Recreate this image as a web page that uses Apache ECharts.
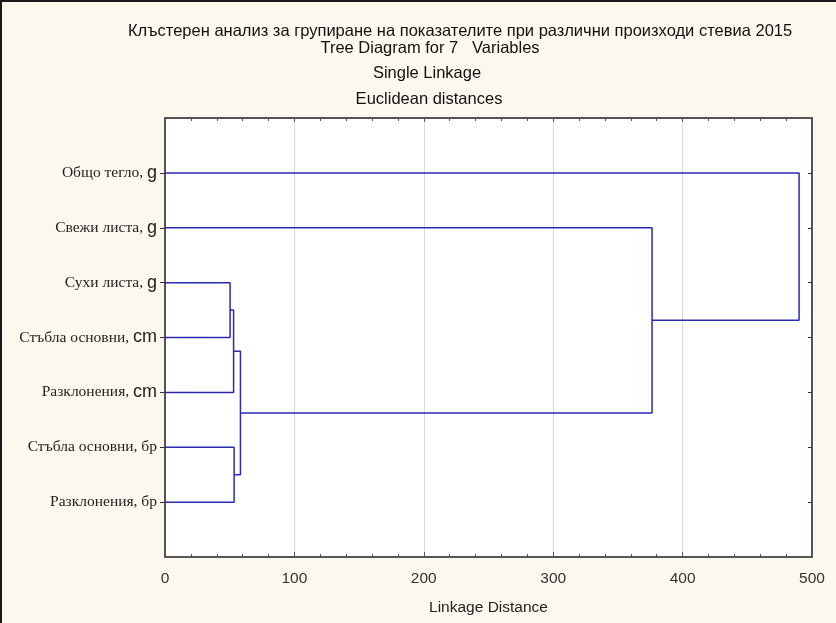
<!DOCTYPE html>
<html>
<head>
<meta charset="utf-8">
<script src="https://cdn.jsdelivr.net/npm/echarts@6/dist/echarts.min.js"></script>
<style>
html,body{margin:0;padding:0;background:#fcf8ee;}
#chart{width:836px;height:623px;position:relative;}
#frame{position:absolute;left:0;top:0;width:836px;height:623px;box-sizing:border-box;border-top:2px solid #1a1a1a;border-left:2px solid #1a1a1a;pointer-events:none;}
</style>
</head>
<body>
<div id="chart"></div>
<div id="frame"></div>
<script>
// ---- data ----
const titleLines = [
  "Клъстерен анализ за групиране на показателите при различни произходи стевиа 2015",
  "Tree Diagram for 7   Variables",
  "Single Linkage",
  "Euclidean distances"
];
const leafNames = ["Общо тегло, ", "Свежи листа, ", "Сухи листа, ", "Стъбла основни, ", "Разклонения, ", "Стъбла основни, бр", "Разклонения, бр"];
const leafUnits = ["g", "g", "g", "cm", "cm", "", ""];
// merges: node ids 0..6 are leaves (top to bottom), 7+k is result of merge k
const mergeA = [2, 7, 5, 8, 1, 0];
const mergeB = [3, 4, 6, 9, 10, 11];
const mergeHeight = [50.3, 53.0, 53.4, 58.3, 376.4, 490.0];
const xTicks = [0, 100, 200, 300, 400, 500];
const xAxisName = "Linkage Distance";

// ---- build dendrogram paths from the data ----
const nodeX = [], nodeY = [];
leafNames.forEach((n, i) => { nodeX.push(0); nodeY.push(i + 1); });
const series = [];
mergeHeight.forEach((h, k) => {
  const a = mergeA[k], b = mergeB[k];
  series.push({
    type: 'line', xAxisIndex: 0, yAxisIndex: 0,
    data: [[nodeX[a], nodeY[a]], [h, nodeY[a]], [h, nodeY[b]], [nodeX[b], nodeY[b]]],
    symbol: 'none', silent: true, animation: false,
    lineStyle: { color: '#2a2ab4', width: 1.5 }
  });
  nodeX.push(h); nodeY.push((nodeY[a] + nodeY[b]) / 2);
});

const leafPos = leafNames.map((n, i) => i + 1);
const tFont = { fontFamily: 'Liberation Sans, Arial', fontSize: 16.5, fontWeight: 'normal', color: '#111' };
const chart = echarts.init(document.getElementById('chart'));
chart.setOption({
  backgroundColor: '#fcf8ee',
  animation: false,
  title: [
    { text: titleLines[0], left: 123, top: 18, textStyle: tFont },
    { text: titleLines[1], left: 425, textAlign: 'center', top: 35, textStyle: tFont },
    { text: titleLines[2], left: 422, textAlign: 'center', top: 60, textStyle: tFont },
    { text: titleLines[3], left: 424, textAlign: 'center', top: 86, textStyle: tFont }
  ],
  grid: { left: 165, top: 118, width: 647, height: 439, show: true, backgroundColor: '#ffffff', borderWidth: 0 },
  xAxis: [
    {
      type: 'value', position: 'bottom', min: xTicks[0], max: xTicks[xTicks.length - 1], interval: 100,
      name: xAxisName, nameLocation: 'middle', nameGap: 43,
      nameTextStyle: { fontFamily: 'Liberation Sans, Arial', fontSize: 15.5, color: '#222' },
      axisLine: { show: true, onZero: false, lineStyle: { color: '#555', width: 2 } },
      axisTick: { show: true, inside: true, length: 5, lineStyle: { color: '#555' } },
      minorTick: { show: true, splitNumber: 5, length: 3, lineStyle: { color: '#555' } },
      axisLabel: { fontFamily: 'Liberation Sans, Arial', fontSize: 15.5, color: '#333', margin: 14 },
      splitLine: { show: true, lineStyle: { color: '#d9d9d9', width: 1 } }
    },
    {
      type: 'value', position: 'top', min: xTicks[0], max: xTicks[xTicks.length - 1], interval: 100,
      axisLine: { show: true, onZero: false, lineStyle: { color: '#555', width: 2 } },
      axisTick: { show: true, inside: true, length: 4, lineStyle: { color: '#555' } },
      minorTick: { show: true, splitNumber: 5, length: 3, lineStyle: { color: '#555' } },
      axisLabel: { show: false }, splitLine: { show: false }
    }
  ],
  yAxis: [
    {
      type: 'value', position: 'left', inverse: true, min: 0, max: 8, interval: 1,
      axisLine: { show: true, onZero: false, lineStyle: { color: '#555', width: 2 } },
      axisTick: { show: true, inside: false, length: 5, customValues: leafPos, lineStyle: { color: '#333' } },
      axisLabel: {
        customValues: leafPos, margin: 8,
        formatter: v => '{n|' + leafNames[v - 1] + '}' + (leafUnits[v - 1] ? '{u|' + leafUnits[v - 1] + '}' : ''),
        rich: {
          n: { fontFamily: 'Liberation Serif, Times New Roman', fontSize: 15.5, color: '#222' },
          u: { fontFamily: 'Liberation Sans, Arial', fontSize: 18, color: '#222' }
        }
      },
      splitLine: { show: false }
    },
    {
      type: 'value', position: 'right', inverse: true, min: 0, max: 8, interval: 1,
      axisLine: { show: true, onZero: false, lineStyle: { color: '#555', width: 2 } },
      axisTick: { show: true, inside: true, length: 4, customValues: leafPos, lineStyle: { color: '#333' } },
      axisLabel: { show: false }, splitLine: { show: false }
    }
  ],
  series: series
});
</script>
</body>
</html>
